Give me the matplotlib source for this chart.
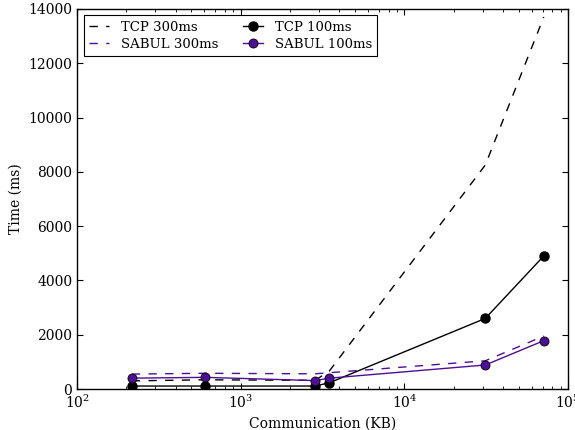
import numpy as np
import matplotlib
matplotlib.use('Agg')
import matplotlib.pyplot as plt

plt.rcParams['font.family'] = ['DejaVu Serif']
plt.rcParams['mathtext.fontset'] = 'dejavuserif'
plt.rcParams['font.size'] = 10

# data
size_kb = [216, 605, 2845, 3476, 31200, 71000]
tcp_300 = [300, 340, 320, 660, 8250, 13700]
sabul_300 = [550, 580, 560, 600, 1040, 1950]
tcp_100 = [110, 110, 110, 230, 2600, 4900]
sabul_100 = [400, 430, 310, 400, 885, 1780]

purple = '#4e0f98'

fig = plt.figure(figsize=(5.75, 4.3), dpi=100)
ax = fig.add_axes([0.134, 0.0953, 0.854, 0.884])

ax.plot(size_kb, tcp_300, color='black', ls='--', lw=1, dashes=(6, 6), label='TCP 300ms')
ax.plot(size_kb, sabul_300, color=purple, ls='--', lw=1, dashes=(6, 6), label='SABUL 300ms')
ax.plot(size_kb, tcp_100, color='black', lw=1, marker='o', ms=6.5, mfc='black', mec='black', label='TCP 100ms')
ax.plot(size_kb, sabul_100, color=purple, lw=1, marker='o', ms=6.5, mfc=purple, mec='black', mew=0.6, label='SABUL 100ms')

ax.set_xscale('log')
ax.set_xlim(100, 100000)
ax.set_ylim(0, 14000)
ax.set_yticks(np.arange(0, 14001, 2000))

ax.set_xlabel('Communication (KB)')
ax.set_ylabel('Time (ms)')

ax.tick_params(which='both', direction='in', top=True, right=True)
ax.tick_params(which='major', length=4, width=0.8)
ax.tick_params(which='minor', length=2, width=0.6)
for s in ax.spines.values():
    s.set_linewidth(1)

leg = ax.legend(loc='upper left', ncol=2, fancybox=False, edgecolor='black',
                framealpha=1, columnspacing=1.9, handlelength=1.5,
                handletextpad=0.9, labelspacing=0.3,
                borderaxespad=0.5, fontsize=9.5)
leg.get_frame().set_linewidth(0.8)

fig.savefig('out.png', dpi=100)
